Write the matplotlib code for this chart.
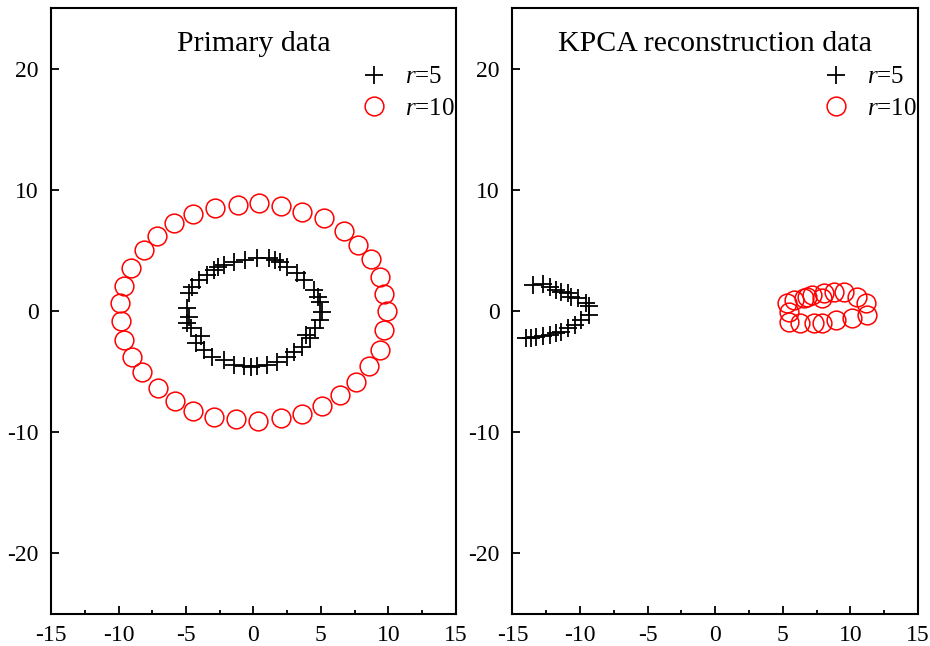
import numpy as np
import matplotlib
matplotlib.use("Agg")
from matplotlib import pyplot as plt
from matplotlib.ticker import MultipleLocator

plt.rcParams["font.family"] = ["Liberation Serif", "DejaVu Serif"]
plt.rcParams["mathtext.fontset"] = "custom"
plt.rcParams["mathtext.it"] = "Liberation Serif:italic"
plt.rcParams["mathtext.rm"] = "Liberation Serif"
plt.rcParams["axes.unicode_minus"] = False

# primary data, r=5
p5_x = [0.27, -0.59, 1.13, -1.46, 2.00, -2.20, 2.49, -2.93, 3.23, -3.42, 3.72, -4.04,
        4.46, -4.53, -4.78, 4.95, -4.90, 5.08, -4.78, 4.95, -4.66, 4.58, -4.29, 4.21,
        -3.67, 3.60, -3.05, 2.98, 2.49, -2.20, -1.46, -0.72, 0.27, 1.01, 1.75, 3.9, -3.9,
        4.8, -4.9, -2.6, 1.6, -0.2]
p5_y = [4.36, 4.21, 4.36, 4.07, 4.07, 3.80, 3.66, 3.39, 3.12, 2.98, 2.56, 2.56,
        1.74, 2.01, 1.46, 0.77, 0.22, -0.06, -0.47, -0.74, -1.43, -1.43, -2.67, -2.26,
        -3.22, -2.95, -3.78, -3.36, -3.78, -4.05, -4.46, -4.55, -4.55, -4.46, -4.19, -2.0, -2.1,
        1.2, -1.0, 3.6, 4.2, -4.6]
# primary data, r=10
p10_x = [0.44, 2.07, 3.62, 5.25, 6.73, 7.76, 8.72, 9.39, 9.68, 9.90, 9.68, 9.39, 8.57,
         7.61, 6.43, 5.10, 3.62, 2.07, 0.37, -1.26, -2.96, -4.51, -5.84, -7.10, -8.28,
         -9.02, -9.61, -9.83, -9.90, -9.61, -9.09, -8.13, -7.17, -5.91, -4.51, -2.88, -1.18]
p10_y = [8.93, 8.68, 8.18, 7.69, 6.61, 5.45, 4.30, 2.81, 1.40, 0.0, -1.57, -3.22, -4.55,
         -5.87, -6.94, -7.85, -8.51, -8.84, -9.09, -8.93, -8.76, -8.26, -7.44, -6.36, -5.04,
         -3.80, -2.40, -0.83, 0.66, 2.07, 3.55, 5.04, 6.20, 7.27, 8.02, 8.51, 8.76]

# KPCA reconstruction, r=5
k5_x = [-13.49, -12.75, -12.25, -11.75, -11.38, -10.89, -10.64, -10.15, -9.52, -9.3,
        -9.3, -9.90, -10.39, -10.89, -11.38, -11.75, -12.25, -12.75, -13.24, -13.61, -13.98]
k5_y = [2.15, 2.23, 2.01, 1.74, 1.60, 1.46, 1.18, 1.05, 0.64, 0.45,
        -0.35, -0.74, -1.16, -1.43, -1.71, -1.79, -1.98, -2.07, -2.17, -2.26, -2.26]
# KPCA reconstruction, r=10
k10_x = [5.44, 5.32, 5.81, 6.56, 6.81, 7.18, 7.92, 8.04, 9.52, 10.52, 11.14, 11.26,
         10.15, 8.91, 7.92, 7.30, 6.31, 5.44, 8.8]
k10_y = [-0.06, 0.64, 0.91, 1.05, 1.18, 1.32, 1.05, 1.51, 1.60, 1.18, 0.64, -0.33,
         -0.60, -0.74, -1.02, -1.02, -1.02, -0.88, 1.6]

titles = ["Primary data", "KPCA reconstruction data"]

fig = plt.figure(figsize=(9.3, 6.46), dpi=100)
ax1 = fig.add_axes([0.055, 0.050, 0.435, 0.937])
ax2 = fig.add_axes([0.551, 0.050, 0.436, 0.937])

panels = [(ax1, p5_x, p5_y, p10_x, p10_y), (ax2, k5_x, k5_y, k10_x, k10_y)]
for (ax, x5, y5, x10, y10), title in zip(panels, titles):
    ax.plot(x5, y5, ls="none", marker="+", ms=13, mew=1.3, color="black",
            label=r"$\mathit{r}$=5")
    ax.plot(x10, y10, ls="none", marker="o", ms=13.5, mew=1.1, mfc="none",
            mec="red", label=r"$\mathit{r}$=10")
    ax.set_xlim(-15, 15)
    ax.set_ylim(-25, 25)
    ax.xaxis.set_major_locator(MultipleLocator(5))
    ax.xaxis.set_minor_locator(MultipleLocator(2.5))
    ax.yaxis.set_major_locator(MultipleLocator(10))
    ax.tick_params(which="major", direction="in", length=6, width=1.3,
                   labelsize=17, top=False, right=False)
    ax.tick_params(which="minor", direction="in", length=3, width=1.3)
    ax.tick_params(axis="x", pad=8)
    ax.tick_params(axis="y", pad=9)
    for s in ax.spines.values():
        s.set_linewidth(1.5)
    ax.text(0.5, 0.942, title, transform=ax.transAxes, ha="center", va="center",
            fontsize=21.5)
    ax.legend(loc="upper right", bbox_to_anchor=(1.035, 0.93), frameon=False,
              fontsize=18, handletextpad=0.45, labelspacing=0.35, borderaxespad=0.2,
              handlelength=1.6)

fig.savefig("out.png", dpi=100)
